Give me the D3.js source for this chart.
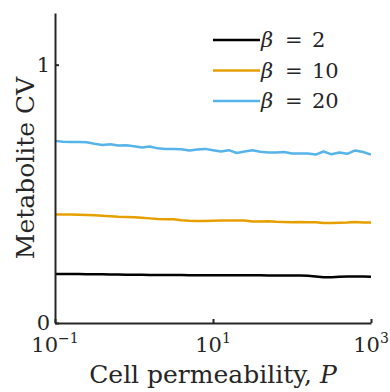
<!DOCTYPE html>
<html>
<head>
<meta charset="utf-8">
<script src="https://cdn.jsdelivr.net/npm/d3@7"></script>
<style>
  body { margin: 0; background: #fff; }
  text { font-family: "DejaVu Serif", "Liberation Serif", serif; fill: #262626; }
</style>
</head>
<body>
<svg id="svg" width="390" height="392"></svg>
<script>
// log10(P) sampled every 0.1 decade, from 10^-1 to 10^3
const logP = d3.range(41).map(k => -1 + k / 10);

const cvBeta2 = [0.190, 0.190, 0.190, 0.190, 0.189, 0.189, 0.189, 0.188, 0.188, 0.187,
  0.187, 0.187, 0.186, 0.186, 0.186, 0.186, 0.186, 0.185, 0.185, 0.185,
  0.185, 0.185, 0.185, 0.185, 0.185, 0.185, 0.185, 0.184, 0.184, 0.184,
  0.184, 0.184, 0.183, 0.180, 0.177, 0.177, 0.179, 0.180, 0.180, 0.180, 0.179];
const cvBeta10 = [0.420, 0.420, 0.420, 0.419, 0.418, 0.417, 0.415, 0.413, 0.411, 0.410,
  0.409, 0.407, 0.405, 0.403, 0.402, 0.402, 0.398, 0.396, 0.395, 0.395,
  0.396, 0.397, 0.397, 0.397, 0.397, 0.393, 0.393, 0.394, 0.392, 0.391,
  0.390, 0.391, 0.390, 0.390, 0.387, 0.387, 0.388, 0.389, 0.391, 0.389, 0.389];
const cvBeta20 = [0.705, 0.702, 0.701, 0.701, 0.700, 0.694, 0.689, 0.692, 0.687, 0.688,
  0.684, 0.679, 0.683, 0.676, 0.674, 0.674, 0.673, 0.668, 0.672, 0.674,
  0.669, 0.664, 0.669, 0.658, 0.664, 0.669, 0.663, 0.660, 0.660, 0.662,
  0.656, 0.656, 0.656, 0.652, 0.664, 0.653, 0.660, 0.655, 0.668, 0.662, 0.652];

const seriesNames = ['2', '10', '20'];
const seriesColors = ['#000000', '#E69F00', '#56B4E9'];
const xTicks = [0.1, 10, 1000];
const yTicks = [0, 1];

const margin = {top: 13, right: 19, bottom: 69, left: 55};
const width = 390 - margin.left - margin.right;
const height = 392 - margin.top - margin.bottom;

const svg = d3.select('#svg');
const g = svg.append('g')
  .attr('transform', `translate(${margin.left},${margin.top})`);

const xScale = d3.scaleLog().domain([0.1, 1000]).range([0, width]);
const yScale = d3.scaleLinear().domain([0, 1.2]).range([height, 0]);

const allSeries = [cvBeta2, cvBeta10, cvBeta20];

const line = d3.line()
  .x((d, i) => xScale(Math.pow(10, logP[i])))
  .y(d => yScale(d));

g.selectAll('.series')
  .data(allSeries)
  .enter()
  .append('path')
  .attr('class', 'series')
  .attr('d', d => line(d))
  .attr('fill', 'none')
  .attr('stroke', (d, i) => seriesColors[i])
  .attr('stroke-width', 2.5)
  .attr('stroke-linejoin', 'round');

// axes
const xAxis = g.append('g')
  .attr('transform', `translate(0,${height})`)
  .call(d3.axisBottom(xScale).tickValues(xTicks).tickSizeInner(-4).tickSizeOuter(0).tickFormat(''));
const yAxis = g.append('g')
  .call(d3.axisLeft(yScale).tickValues(yTicks).tickSizeInner(-4).tickSizeOuter(0).tickFormat(''));

[xAxis, yAxis].forEach(a => {
  a.select('.domain').attr('stroke', '#262626').attr('stroke-width', 2);
  a.selectAll('.tick line').attr('stroke', '#262626').attr('stroke-width', 2);
});

// x tick labels with superscript exponents
xTicks.forEach(t => {
  const txt = g.append('text')
    .attr('x', xScale(t))
    .attr('y', height + 29)
    .attr('text-anchor', 'middle')
    .attr('font-size', 21);
  txt.append('tspan').text('10');
  txt.append('tspan')
    .attr('dy', -9)
    .attr('font-size', 14)
    .text(String(Math.round(Math.log10(t))).replace('-', '\u2212'));
});

yTicks.forEach(t => {
  g.append('text')
    .attr('x', -5)
    .attr('y', yScale(t) + 7)
    .attr('text-anchor', 'end')
    .attr('font-size', 21)
    .text(t);
});

// axis titles
const xTitle = g.append('text')
  .attr('x', width / 2)
  .attr('y', height + 60)
  .attr('text-anchor', 'middle')
  .attr('font-size', 25);
xTitle.append('tspan').text('Cell permeability, ');
xTitle.append('tspan').attr('font-style', 'italic').text('P');

g.append('text')
  .attr('transform', `translate(-21,${height / 2}) rotate(-90)`)
  .attr('text-anchor', 'middle')
  .attr('font-size', 25)
  .text('Metabolite CV');

// legend
const legend = g.append('g')
  .attr('transform', `translate(158,27)`);
const item = legend.selectAll('.item')
  .data(seriesNames)
  .enter()
  .append('g')
  .attr('class', 'item')
  .attr('transform', (d, i) => `translate(0,${i * 30.5})`);
item.append('line')
  .attr('x1', 0).attr('x2', 47)
  .attr('stroke', (d, i) => seriesColors[i])
  .attr('stroke-width', 2.5);
item.append('text')
  .attr('x', 48).attr('y', 7).attr('font-size', 21)
  .attr('font-style', 'italic')
  .text('\u03b2');
item.append('text')
  .attr('x', 72).attr('y', 7).attr('font-size', 21)
  .text('=');
item.append('text')
  .attr('x', 99).attr('y', 7).attr('font-size', 21)
  .text(d => d);
</script>
</body>
</html>
